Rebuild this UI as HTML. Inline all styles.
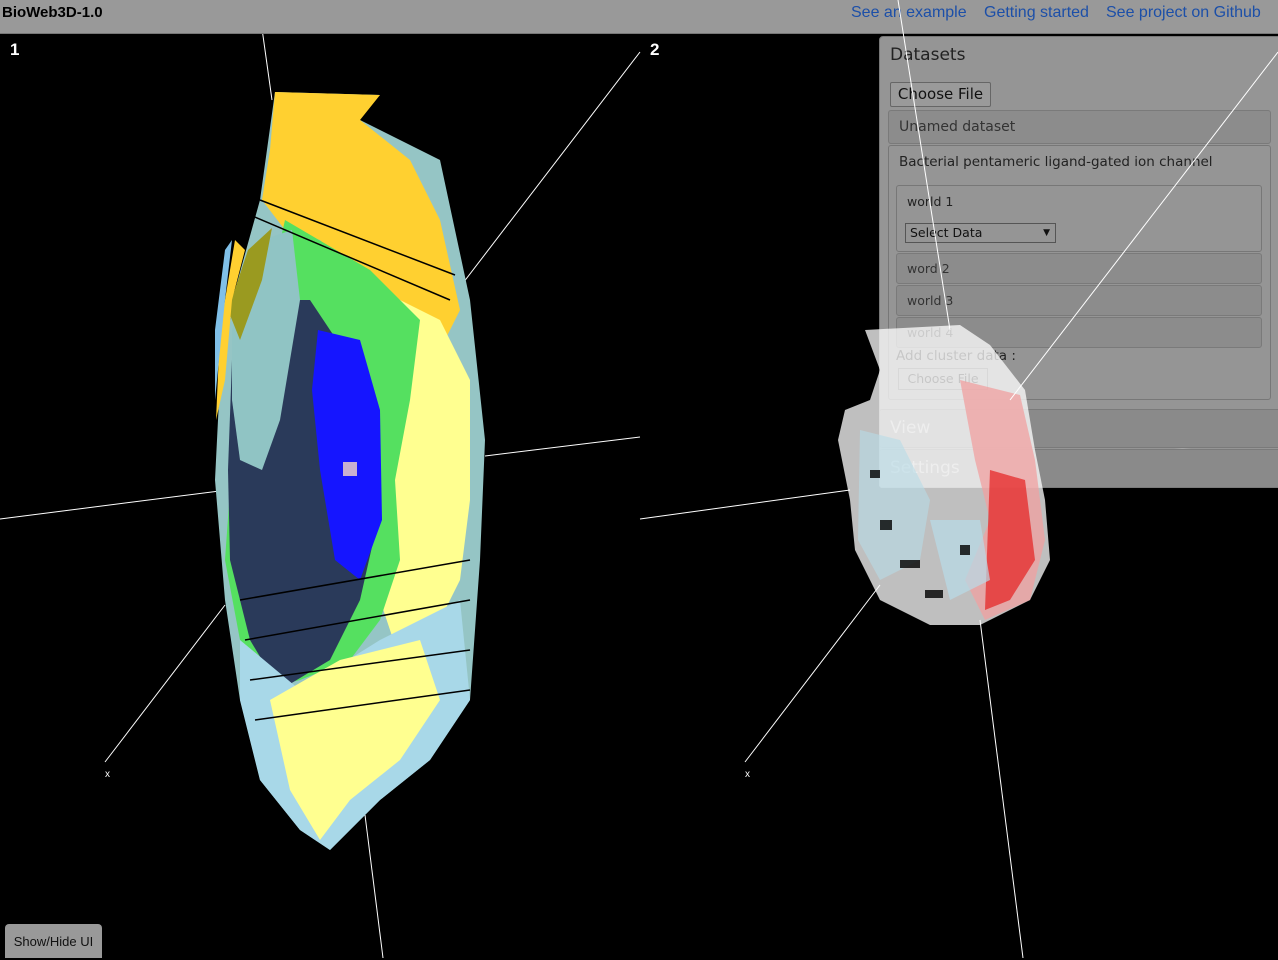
<!DOCTYPE html>
<html><head><meta charset="utf-8">
<style>
html,body{margin:0;padding:0;background:#000;width:1278px;height:958px;overflow:hidden;font-family:"Liberation Sans","DejaVu Sans",sans-serif}
#topbar{position:absolute;left:0;top:0;width:1278px;height:33px;background:#999;border-bottom:1px solid #777}
#brand{position:absolute;left:2px;top:4px;font-weight:bold;font-size:15px;color:#000}
.lnk{position:absolute;top:4px;font-size:16px;color:#1c4fa8}
#panel{position:absolute;left:879px;top:36px;width:399px;height:450px;background:rgba(160,160,160,0.93);border:1px solid #777;border-radius:4px 0 0 4px;font-family:"DejaVu Sans",sans-serif}
.t{position:absolute;color:#222}
.sub{position:absolute;background:#8c8c8c;border:1px solid #7a7a7a;border-radius:3px}
.box{position:absolute;border:1px solid #777;border-radius:3px}
#showhide{position:absolute;left:5px;top:924px;width:97px;height:34px;background:#999;border-radius:4px 4px 0 0;font-size:13px;color:#111;text-align:center;line-height:36px}
svg{position:absolute;left:0;top:0}
</style></head><body>
<svg width="1278" height="958">
<g stroke="#fff" stroke-width="1">
<line x1="0" y1="519" x2="290" y2="482"/><line x1="485" y1="456" x2="640" y2="437"/>
<line x1="640" y1="52" x2="450" y2="300"/><line x1="105" y1="762" x2="225" y2="605"/>
<line x1="258" y1="0" x2="272" y2="100"/><line x1="365" y1="815" x2="383" y2="958"/>
</g>
<g>
<path d="M275,92 L380,95 L350,115 L440,160 L470,300 L485,440 L480,560 L470,700 L430,760 L380,800 L330,850 L300,830 L260,780 L240,700 L225,600 L215,480 L220,380 L235,290 L260,200 Z" fill="#95c5c5"/>
<path d="M275,92 L380,95 L360,120 L410,160 L440,220 L460,310 L440,350 L380,300 L320,240 L285,230 L262,200 L270,150 Z" fill="#ffd030"/>
<path d="M360,280 L440,320 L470,380 L470,500 L460,580 L440,620 L400,660 L380,600 L390,450 L370,360 Z" fill="#ffff90"/>
<path d="M285,220 L370,270 L420,320 L410,400 L395,480 L400,560 L380,620 L350,660 L300,680 L260,690 L240,640 L225,560 L230,490 L245,440 L260,330 Z" fill="#55e060"/>
<path d="M232,360 L270,300 L310,300 L350,360 L380,440 L378,520 L360,600 L330,660 L280,690 L250,640 L230,560 L228,470 Z" fill="#2a3a5a"/>
<path d="M318,330 L360,340 L380,410 L382,520 L360,580 L335,560 L320,470 L312,390 Z" fill="#1515ff"/>
<rect x="343" y="462" width="14" height="14" fill="#c8b0d0"/>
<path d="M232,330 L262,240 L292,230 L300,300 L280,420 L262,470 L240,460 L232,400 Z" fill="#90c4c4"/>
<path d="M228,310 L248,250 L272,228 L262,280 L240,340 Z" fill="#9a9a20"/>
<path d="M225,380 L232,300 L245,250 L235,240 L220,330 L216,420 Z" fill="#ffd030"/>
<path d="M215,400 L225,300 L232,240 L225,250 L215,330 Z" fill="#80c0e8"/>
<path d="M240,640 L300,690 L380,640 L460,600 L470,700 L430,760 L380,800 L330,850 L300,830 L260,780 L240,700 Z" fill="#a8d8e8"/>
<path d="M270,700 L340,660 L420,640 L440,700 L400,760 L350,800 L320,840 L290,790 Z" fill="#ffff90"/>
<g stroke="#000" stroke-width="1.5">
<line x1="260" y1="200" x2="455" y2="275"/><line x1="250" y1="215" x2="450" y2="300"/>
<line x1="240" y1="600" x2="470" y2="560"/><line x1="245" y1="640" x2="470" y2="600"/>
<line x1="250" y1="680" x2="470" y2="650"/><line x1="255" y1="720" x2="470" y2="690"/>
</g>
</g>
<g stroke="#fff" stroke-width="1">
<line x1="640" y1="519" x2="850" y2="490"/><line x1="1045" y1="465" x2="1278" y2="437"/>
<line x1="745" y1="762" x2="880" y2="585"/><line x1="980" y1="620" x2="1023" y2="958"/>
</g>
<text x="10" y="55" fill="#fff" font-size="17" font-weight="bold" font-family="Liberation Sans">1</text>
<text x="650" y="55" fill="#fff" font-size="17" font-weight="bold" font-family="Liberation Sans">2</text>
<text x="105" y="777" fill="#fff" font-size="10" font-family="Liberation Sans">x</text>
<text x="745" y="777" fill="#fff" font-size="10" font-family="Liberation Sans">x</text>
</svg>
<div id="topbar">
<div id="brand">BioWeb3D-1.0</div>
<div class="lnk" style="left:851px">See an example</div>
<div class="lnk" style="left:984px">Getting started</div>
<div class="lnk" style="left:1106px">See project on Github</div>
</div>
<div id="panel">
<div class="t" style="left:10px;top:8px;font-size:17px">Datasets</div>
<div style="position:absolute;left:10px;top:45px;width:99px;height:23px;background:#9a9a9a;border:1px solid #666;border-radius:2px;font-size:15px;line-height:23px;text-align:center;color:#111">Choose File</div>
<div class="sub" style="left:8px;top:73px;width:381px;height:32px"><span class="t" style="left:10px;top:8px;font-size:14px;color:#333">Unamed dataset</span></div>
<div class="box" style="left:8px;top:108px;width:381px;height:253px">
<span class="t" style="left:10px;top:8px;font-size:13.5px">Bacterial pentameric ligand-gated ion channel</span>
<div class="box" style="left:7px;top:39px;width:364px;height:65px">
<span class="t" style="left:10px;top:8px;font-size:12.5px">world 1</span>
<div style="position:absolute;left:8px;top:37px;width:145px;height:18px;border:1px solid #555;background:#959595;font-size:12.5px;line-height:18px;padding-left:4px;color:#111">Select Data<span style="position:absolute;right:5px;font-size:9px">▼</span></div>
</div>
<div class="sub" style="left:7px;top:107px;width:364px;height:29px"><span class="t" style="left:10px;top:7px;font-size:12.5px;color:#333">word 2</span></div>
<div class="sub" style="left:7px;top:139px;width:364px;height:29px"><span class="t" style="left:10px;top:7px;font-size:12.5px;color:#333">world 3</span></div>
<div class="sub" style="left:7px;top:171px;width:364px;height:29px"><span class="t" style="left:10px;top:7px;font-size:12.5px;color:#333">world 4</span></div>
<span class="t" style="left:7px;top:202px;font-size:13.5px">Add cluster data :</span>
<div style="position:absolute;left:9px;top:222px;width:88px;height:20px;border:1px solid #666;font-size:12.5px;line-height:20px;text-align:center;color:#222">Choose File</div>
</div>
<div class="sub" style="left:-1px;top:372px;width:400px;height:37px;background:#8a8a8a"><span class="t" style="left:10px;top:8px;font-size:17px;color:#bbb">View</span></div>
<div class="sub" style="left:-1px;top:412px;width:400px;height:37px;background:#8a8a8a"><span class="t" style="left:10px;top:8px;font-size:17px;color:#bbb">Settings</span></div>
</div>
<svg width="1278" height="958" style="pointer-events:none">
<g>
<path d="M865,330 L960,325 L990,345 L1025,390 L1035,450 L1045,500 L1050,560 L1030,600 L980,625 L930,625 L880,600 L855,550 L850,500 L838,440 L845,410 L870,400 L880,370 Z" fill="#fff" opacity="0.75"/>
<path d="M960,380 L1020,395 L1035,460 L1045,540 L1030,600 L985,620 L965,580 L990,520 L975,460 Z" fill="#f0a0a0" opacity="0.75"/>
<path d="M990,470 L1025,480 L1035,560 L1010,600 L985,610 Z" fill="#e52020" opacity="0.7"/>
<path d="M860,430 L900,440 L930,500 L920,560 L880,580 L858,540 Z" fill="#b8dce8" opacity="0.6"/>
<path d="M930,520 L980,520 L990,580 L950,600 Z" fill="#b8dce8" opacity="0.7"/>
<g fill="#000" opacity="0.8">
<rect x="900" y="560" width="20" height="8"/><rect x="880" y="520" width="12" height="10"/>
<rect x="925" y="590" width="18" height="8"/><rect x="960" y="545" width="10" height="10"/>
<rect x="870" y="470" width="10" height="8"/>
</g>
</g>
<g stroke="#fff" stroke-width="1">
<line x1="1278" y1="52" x2="1010" y2="400"/><line x1="898" y1="0" x2="950" y2="330"/>
</g>
</svg>
<div id="showhide">Show/Hide UI</div>
</body></html>
